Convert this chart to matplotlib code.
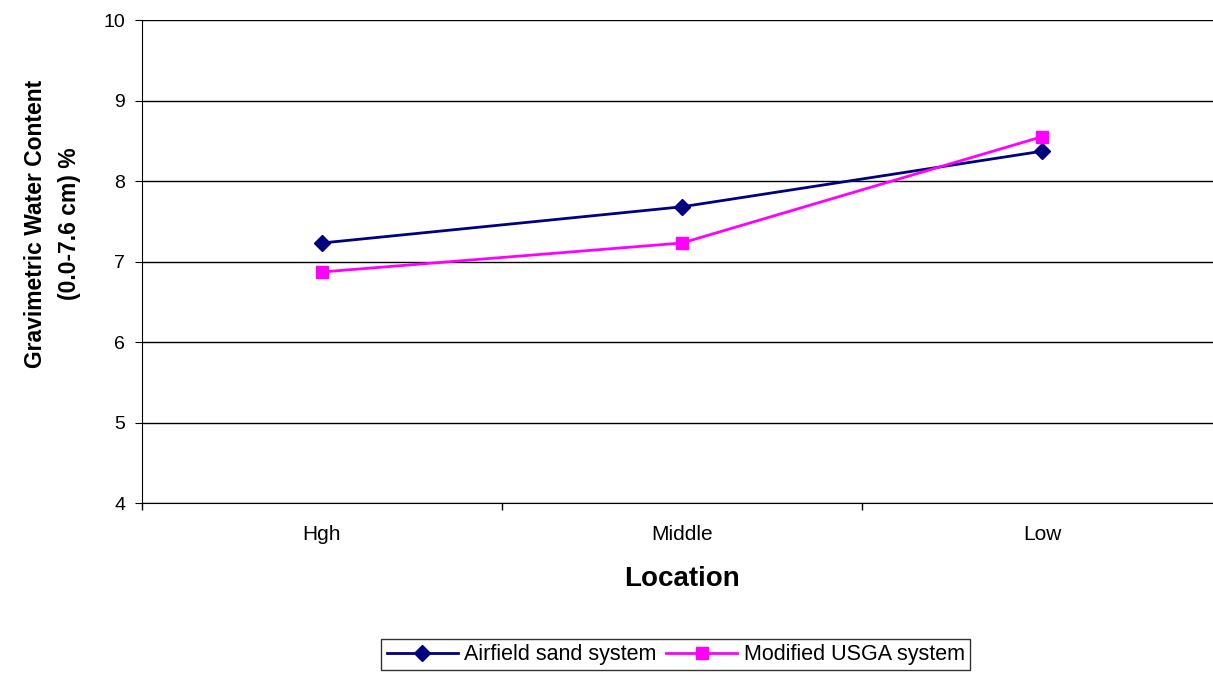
import matplotlib.pyplot as plt
import numpy as np

plt.rcParams['font.family'] = ['Liberation Sans', 'DejaVu Sans']

locations = ["Hgh", "Middle", "Low"]
airfield = [7.23, 7.68, 8.37]
usga = [6.87, 7.23, 8.55]

fig = plt.figure(figsize=(12.13, 6.79), dpi=100)
ax = fig.add_axes([0.117, 0.2592, 0.8904, 0.7113])

x = np.arange(len(locations))
ax.plot(x, airfield, color="#000080", marker="D", markersize=8, linewidth=2,
        label="Airfield sand system")
ax.plot(x, usga, color="#FF00FF", marker="s", markersize=8, linewidth=2,
        label="Modified USGA system")

ax.set_xlim(-0.5, 2.5)
ax.set_ylim(4, 10)
ax.set_yticks(np.arange(4, 11, 1))
ax.set_xticks(x)
ax.set_xticklabels(locations)
ax.set_xticks(np.arange(-0.5, 3, 1), minor=True)
ax.tick_params(axis="x", which="major", length=0, pad=16, labelsize=15)
ax.tick_params(axis="x", which="minor", length=5, direction="out", width=1)
ax.tick_params(axis="y", length=5, direction="out", labelsize=14, pad=7)

ax.grid(axis="y", color="black", linewidth=1)
ax.set_axisbelow(True)
for s in ["top", "right"]:
    ax.spines[s].set_visible(False)

ax.set_xlabel("Location", fontsize=20, fontweight="bold", labelpad=16)
ax.set_ylabel("Gravimetric Water Content\n(0.0-7.6 cm) %", fontsize=16.5,
              fontweight="bold", linespacing=1.65)
ax.yaxis.set_label_coords(-0.056, 0.578)

leg = fig.legend(loc="center", bbox_to_anchor=(0.557, 0.036), ncol=2,
                 fontsize=15.5, frameon=True, fancybox=False, edgecolor="black",
                 handlelength=3.3, columnspacing=0.45, handletextpad=0.3,
                 borderpad=0.25, borderaxespad=0)
leg.get_frame().set_linewidth(1)

fig.savefig("out.png", dpi=100)
